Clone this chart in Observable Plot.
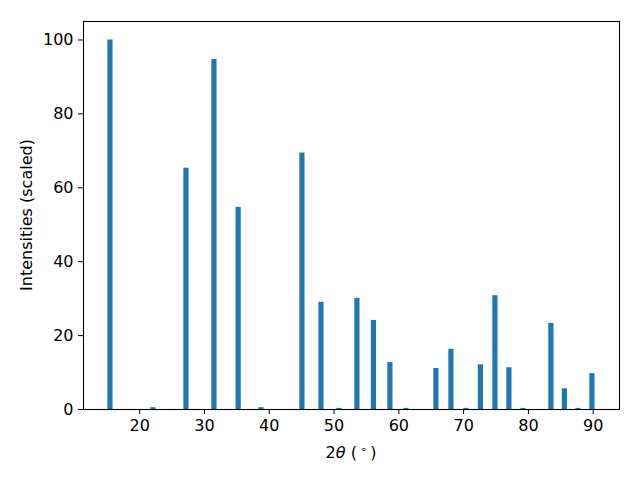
<!DOCTYPE html>
<html>
<head>
<meta charset="utf-8">
<script src="https://cdn.jsdelivr.net/npm/d3@7"></script>
<script src="https://cdn.jsdelivr.net/npm/@observablehq/plot@0.6"></script>
<style>
  html, body { margin: 0; padding: 0; background: white; }
  #chart { width: 640px; height: 480px; }
</style>
</head>
<body>
<div id="chart"></div>
<script>
// Peak positions (2θ, degrees) and scaled intensities
const twoTheta = [15.49, 22.13, 27.22, 31.54, 35.28, 38.80, 45.12, 48.06, 50.83, 53.61, 56.16, 58.70,
                  61.17, 65.80, 68.12, 70.43, 72.67, 74.91, 77.07, 79.23, 83.55, 85.63, 87.71, 89.88];
const intensity = [100, 0.5, 65.3, 94.7, 54.7, 0.5, 69.4, 29.0, 0.3, 30.1, 24.1, 12.7,
                   0.3, 11.1, 16.3, 0.3, 12.1, 30.8, 11.3, 0.3, 23.3, 5.6, 0.3, 9.7];
const xTicks = [20, 30, 40, 50, 60, 70, 80, 90];
const yTicks = [0, 20, 40, 60, 80, 100];

const peaks = twoTheta.map((x, i) => ({x, y: intensity[i]}));
const barWidth = 0.8;

const plot = Plot.plot({
  width: 640,
  height: 480,
  marginLeft: 83,
  marginRight: 21,
  marginTop: 21,
  marginBottom: 71,
  style: {fontFamily: "'DejaVu Sans', sans-serif", fontSize: "16px", color: "black", background: "white"},
  x: {domain: [11.33, 94.06]},
  y: {domain: [0, 105]},
  marks: [
    Plot.rect(peaks, {x1: d => d.x - barWidth / 2, x2: d => d.x + barWidth / 2, y1: 0, y2: "y", fill: "#1f77b4"}),
    Plot.axisX({ticks: xTicks, tickSize: 5, tickPadding: 5, fontSize: 16, label: null, stroke: "black"}),
    Plot.axisY({ticks: yTicks, tickSize: 5, tickPadding: 5, fontSize: 16, label: null, stroke: "black"}),
    Plot.frame({stroke: "black", strokeWidth: 1.1})
  ]
});

const svg = d3.select(plot);
// y-axis label
svg.append("text")
  .attr("transform", "translate(32,215) rotate(-90)")
  .attr("text-anchor", "middle")
  .attr("font-family", "'DejaVu Sans', sans-serif")
  .attr("font-size", 16)
  .attr("fill", "black")
  .text("Intensities (scaled)");
// x-axis label: 2θ (°)
const xl = svg.append("text")
  .attr("x", 351)
  .attr("y", 457.5)
  .attr("text-anchor", "middle")
  .attr("font-family", "'DejaVu Sans', sans-serif")
  .attr("font-size", 16)
  .attr("fill", "black");
xl.append("tspan").text("2");
xl.append("tspan").attr("font-style", "italic").text("θ");
xl.append("tspan").text(" (\u2009");
xl.append("tspan").attr("font-size", 11).attr("dy", -5).text("∘");
xl.append("tspan").attr("dy", 5).text("\u2009)");

document.getElementById("chart").appendChild(plot);
</script>
</body>
</html>
